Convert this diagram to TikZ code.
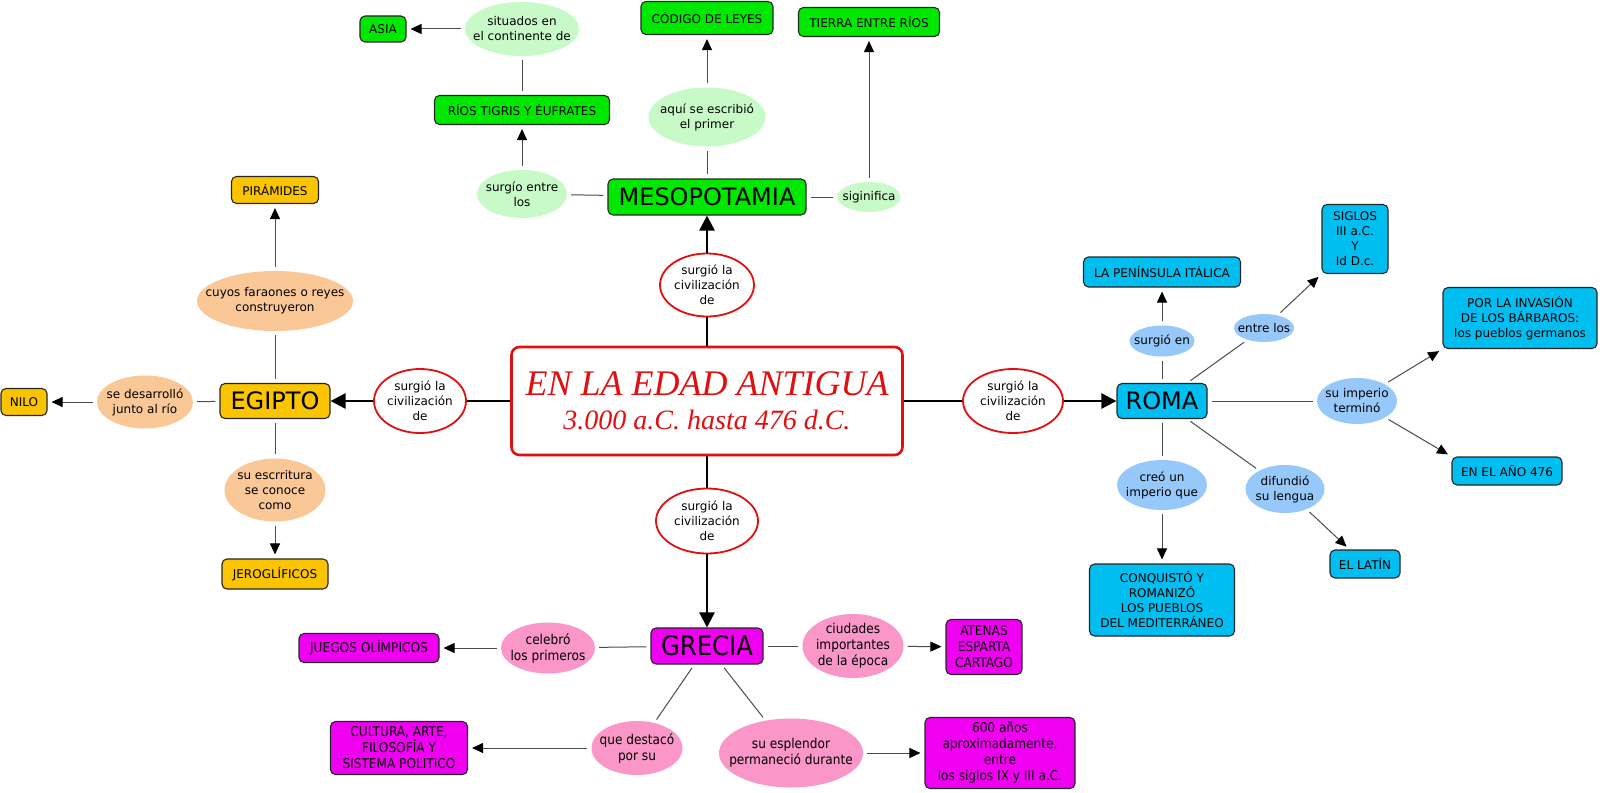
\documentclass[tikz,border=0pt]{standalone}
\usepackage{fontspec}
\setmainfont{DejaVu Sans}
\newfontfamily\titulofont{Liberation Serif}
\newfontfamily\grecofont{DejaVu Sans Condensed}
\usetikzlibrary{shapes.geometric,arrows.meta}
\definecolor{verdeC}{RGB}{0,232,0}
\definecolor{verdeE}{RGB}{200,250,200}
\definecolor{oroC}{RGB}{250,196,0}
\definecolor{oroE}{RGB}{250,200,150}
\definecolor{magC}{RGB}{240,0,240}
\definecolor{magE}{RGB}{250,150,200}
\definecolor{azulC}{RGB}{0,190,240}
\definecolor{azulE}{RGB}{150,200,250}
\definecolor{rojo}{RGB}{225,15,15}

\begin{document}
\begin{tikzpicture}[x=1pt,y=-1pt,
    caja/.style={draw=black!85,line width=1.1pt,rounded corners=5pt,align=center,
      inner sep=1pt,font=\fontsize{12}{15}\selectfont},
    nexo/.style={ellipse,inner xsep=-20pt,inner ysep=-8pt,align=center,
      font=\fontsize{12}{15}\selectfont},
    grande/.style={font=\fontsize{24}{28}\selectfont},
    griego/.style={font=\grecofont\fontsize{13.5}{16}\selectfont},
    tam/.style 2 args={minimum width=#1pt,minimum height=#2pt},
    civ/.style={nexo,draw=rojo,line width=1.8pt,fill=white},
    linea/.style={black!70,line width=1pt,shorten <=4pt,shorten >=4pt},
    flecha/.style={linea,-{Triangle[length=11pt,width=10pt,color=black]}},
    grueso/.style={black,line width=2.6pt},
    gflecha/.style={grueso,-{Triangle[length=15pt,width=15pt]}}]
  \useasboundingbox[fill=white] (0,0) rectangle (1600,792);

  \node[draw=rojo,line width=2.6pt,rounded corners=8pt,tam={391}{108},align=center,
    text=rojo,font=\titulofont\itshape\fontsize{36}{34}\selectfont,inner sep=0pt]
    (edad) at (707,401)
    {EN LA EDAD ANTIGUA\\\fontsize{28}{36}\selectfont 3.000 a.C. hasta 476 d.C.};
  \node[civ,tam={94}{63}] (civm) at (707,285) {surgió la\\civilización\\de};
  \node[civ,tam={92}{64}] (cive) at (420,401) {surgió la\\civilización\\de};
  \node[civ,tam={100}{64}] (civr) at (1013,401) {surgió la\\civilización\\de};
  \node[civ,tam={102}{65}] (civg) at (707,521) {surgió la\\civilización\\de};

  \begin{scope}[caja/.append style={fill=verdeC},nexo/.append style={fill=verdeE}]
    \node[caja,grande,tam={198}{36}] (meso) at (707,197) {MESOPOTAMIA};
    \node[nexo,tam={90}{48}] (surgioentre) at (522,194) {surgío entre\\los};
    \node[caja,tam={175}{29}] (rios) at (522,110) {RÍOS TIGRIS Y ÉUFRATES};
    \node[nexo,tam={114}{54}] (situados) at (522,29) {situados en\\el continente de};
    \node[caja,tam={46}{26}] (asia) at (383,29) {ASIA};
    \node[nexo,tam={117}{59}] (aqui) at (707,117) {aquí se escribió\\el primer};
    \node[caja,tam={132}{33}] (codigo) at (707,18) {CÓDIGO DE LEYES};
    \node[nexo,tam={63}{30}] (significa) at (869,197) {siginifica};
    \node[caja,tam={141}{29}] (tierra) at (869,22) {TIERRA ENTRE RÍOS};
  \end{scope}

  \begin{scope}[caja/.append style={fill=oroC},nexo/.append style={fill=oroE}]
    \node[caja,grande,tam={110}{35}] (egipto) at (275,401) {EGIPTO};
    \node[nexo,tam={156}{60}] (cuyos) at (275,301) {cuyos faraones o reyes\\construyeron};
    \node[caja,tam={87}{27}] (piramides) at (275,190) {PIRÁMIDES};
    \node[nexo,tam={96}{53}] (desarrollo) at (145,402) {se desarrolló\\junto al río};
    \node[caja,tam={46}{27}] (nilo) at (24,402) {NILO};
    \node[nexo,tam={101}{63}] (escritura) at (275,490) {su escrritura\\se conoce\\como};
    \node[caja,tam={106}{30}] (jeroglificos) at (275,574) {JEROGLÍFICOS};
  \end{scope}

  \begin{scope}[caja/.append style={fill=magC,griego},nexo/.append style={fill=magE,griego}]
    \node[caja,tam={112}{36},font=\grecofont\fontsize{27}{30}\selectfont] (grecia)
      at (707,646) {GRECIA};
    \node[nexo,tam={94}{51}] (celebro) at (548,648) {celebró\\los primeros};
    \node[caja,tam={140}{29}] (juegos) at (369,648) {JUEGOS OLÍMPICOS};
    \node[nexo,tam={101}{64}] (ciudades) at (853,646) {ciudades\\importantes\\de la época};
    \node[caja,tam={76}{55}] (atenas) at (984,647) {ATENAS\\ESPARTA\\CARTAGO};
    \node[nexo,tam={91}{54}] (destaco) at (637,748) {que destacó\\por su};
    \node[caja,tam={137}{53}] (cultura) at (399,748) {CULTURA, ARTE,\\FILOSOFÍA Y\\SISTEMA POLITICO};
    \node[nexo,tam={144}{69}] (esplendor) at (791,753) {su esplendor\\permaneció durante};
    \node[caja,tam={150}{71}] (anios) at (1000,753)
      {600 años\\aproximadamente,\\entre\\los siglos IX y III a.C.};
  \end{scope}

  \begin{scope}[caja/.append style={fill=azulC},nexo/.append style={fill=azulE}]
    \node[caja,grande,tam={90}{35}] (roma) at (1162,401) {ROMA};
    \node[nexo,tam={65}{31}] (surgioen) at (1162,341) {surgió en};
    \node[caja,tam={157}{30}] (peninsula) at (1162,272) {LA PENÍNSULA ITÁLICA};
    \node[nexo,tam={60}{28}] (entrelos) at (1264,328) {entre los};
    \node[caja,tam={66}{69}] (siglos) at (1355,239) {SIGLOS\\III a.C.\\Y\\Id D.c.};
    \node[nexo,tam={80}{46}] (termino) at (1357,401) {su imperio\\terminó};
    \node[caja,tam={154}{61}] (invasion) at (1520,318)
      {POR LA INVASIÓN\\DE LOS BÁRBAROS:\\los pueblos germanos};
    \node[caja,tam={110}{28}] (anio476) at (1507,471) {EN EL AÑO 476};
    \node[nexo,tam={90}{50}] (creo) at (1162,485) {creó un\\imperio que};
    \node[caja,tam={145}{72}] (conquisto) at (1162,600)
      {CONQUISTÓ Y\\ROMANIZÓ\\LOS PUEBLOS\\DEL MEDITERRÁNEO};
    \node[nexo,tam={79}{48}] (difundio) at (1285,489) {difundió\\su lengua};
    \node[caja,tam={70}{28}] (latin) at (1365,564) {EL LATÍN};
  \end{scope}

  \draw[grueso] (edad) -- (civm);
  \draw[gflecha] (civm) -- (meso);
  \draw[grueso] (edad) -- (cive);
  \draw[gflecha] (cive) -- (egipto);
  \draw[grueso] (edad) -- (civr);
  \draw[gflecha] (civr) -- (roma);
  \draw[grueso] (edad) -- (civg);
  \draw[gflecha] (civg) -- (grecia);

  \draw[linea] (meso) -- (surgioentre);
  \draw[flecha] (surgioentre) -- (rios);
  \draw[linea] (rios) -- (situados);
  \draw[flecha] (situados) -- (asia);
  \draw[linea] (meso) -- (aqui);
  \draw[flecha] (aqui) -- (codigo);
  \draw[linea] (meso) -- (significa);
  \draw[flecha] (significa) -- (tierra);

  \draw[linea] (egipto) -- (cuyos);
  \draw[flecha] (cuyos) -- (piramides);
  \draw[linea] (egipto) -- (desarrollo);
  \draw[flecha] (desarrollo) -- (nilo);
  \draw[linea] (egipto) -- (escritura);
  \draw[flecha] (escritura) -- (jeroglificos);

  \draw[linea] (grecia) -- (celebro);
  \draw[flecha] (celebro) -- (juegos);
  \draw[linea] (grecia) -- (ciudades);
  \draw[flecha] (ciudades) -- (atenas);
  \draw[linea] (grecia) -- (destaco);
  \draw[flecha] (destaco) -- (cultura);
  \draw[linea] (grecia) -- (esplendor);
  \draw[flecha] (esplendor) -- (anios);

  \draw[linea] (roma) -- (surgioen);
  \draw[flecha] (surgioen) -- (peninsula);
  \draw[linea] (roma) -- (entrelos);
  \draw[flecha] (entrelos) -- (siglos.south west);
  \draw[linea] (roma) -- (termino);
  \draw[flecha] (termino) -- (invasion.south west);
  \draw[flecha] (termino) -- (anio476.north west);
  \draw[linea] (roma) -- (creo);
  \draw[flecha] (creo) -- (conquisto);
  \draw[linea] (roma) -- (difundio);
  \draw[flecha] (difundio) -- (latin);
\end{tikzpicture}
\end{document}
